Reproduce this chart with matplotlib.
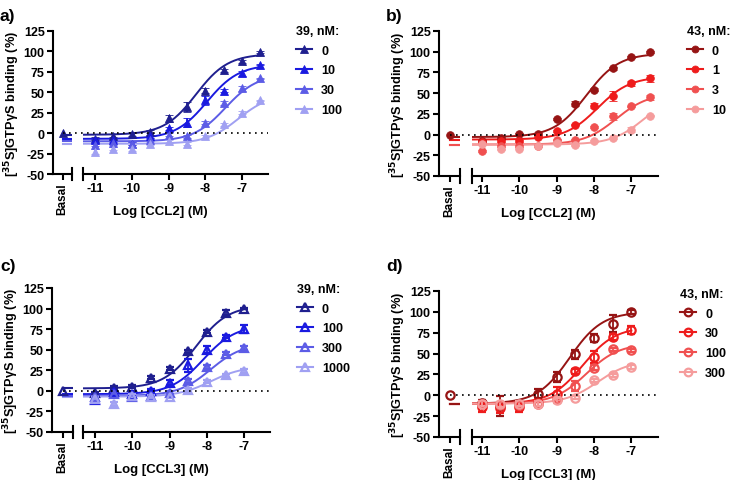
import numpy as np
import matplotlib
matplotlib.use('Agg')
import matplotlib.pyplot as plt
import matplotlib.transforms as mtransforms
from matplotlib.lines import Line2D

plt.rcParams['font.family'] = ['Liberation Sans', 'DejaVu Sans']
plt.rcParams['font.weight'] = 'bold'
plt.rcParams['axes.labelweight'] = 'bold'

W, H = 730, 481

# ---- data ----
log_ccl2 = [-11, -10.5, -10, -9.5, -9, -8.5, -8, -7.5, -7, -6.5]
log_ccl3 = [-11, -10.5, -10, -9.5, -9, -8.5, -8, -7.5, -7]

# a) CCL2 + compound 39
a_labels = ['0', '10', '30', '100']
a_y = [[-7, -3, -1, 2, 18, 32, 52, 77, 88, 99],
       [-9, -9, -13, -4, 6, 13, 40, 52, 73, 84],
       [-14, -12, -13, -8, -2, -4, 13, 37, 55, 67],
       [-23, -19, -20, -13, -10, -13, -4, 11, 25, 40]]
a_err = [[2, 2, 2, 2, 4, 6, 3, 2, 2, 1],
         [2, 2, 2, 2, 2, 5, 5, 2, 3, 1],
         [2, 2, 2, 2, 2, 2, 2, 2, 3, 1],
         [3, 2, 2, 2, 2, 2, 2, 2, 2, 1]]
a_bottom = [-2, -7, -10, -13]
a_top = [97, 84, 72, 48]
a_ec50 = [-8.25, -7.95, -7.45, -7.1]

# b) CCL2 + compound 43
b_labels = ['0', '1', '3', '10']
b_y = [[-8, -4, 1, 1, 19, 37, 54, 80, 94, 100],
       [-9, -8, -8, -3, 4, 12, 35, 46, 62, 68],
       [-20, -14, -14, -14, -6, -6, 9, 22, 34, 45],
       [-11, -18, -17, -14, -10, -13, -8, -4, 6, 23]]
b_err = [[1, 1, 1, 1, 1, 3, 2, 2, 1, 1],
         [1, 1, 1, 1, 1, 1, 3, 6, 3, 4],
         [1, 1, 1, 1, 1, 1, 1, 4, 1, 3],
         [1, 1, 1, 1, 1, 1, 1, 1, 3, 1]]
b_bottom = [-3, -6, -12, -12]
b_top = [98, 70, 50, 50]
b_ec50 = [-8.2, -7.9, -7.4, -6.65]

# c) CCL3 + compound 39
c_labels = ['0', '100', '300', '1000']
c_y = [[-3, 4, 5, 16, 27, 48, 72, 95, 100],
       [-11, -1, -4, 0, 10, 31, 50, 66, 75],
       [-8, -4, -7, -6, -2, 12, 29, 45, 52],
       [-10, -16, -6, -7, -7, 1, 11, 19, 24]]
c_err = [[2, 2, 2, 2, 2, 2, 2, 3, 1],
         [2, 2, 2, 2, 3, 8, 4, 2, 5],
         [2, 2, 2, 2, 2, 2, 3, 2, 2],
         [2, 3, 2, 2, 2, 2, 2, 2, 2]]
c_bottom = [3, -4, -6, -7]
c_top = [104, 80, 58, 30]
c_ec50 = [-8.3, -8.1, -7.9, -7.9]

# d) CCL3 + compound 43
d_labels = ['0', '30', '100', '300']
d_y = [[-9, -13, -11, 2, 22, 49, 69, 86, 100],
       [-14, -15, -14, -9, 1, 29, 46, 70, 78],
       [-11, -12, -12, -11, -5, 11, 33, 55, 54],
       [-10, -11, -10, -10, -6, -3, 18, 24, 34]]
d_err = [[3, 12, 4, 5, 6, 5, 5, 10, 2],
         [6, 6, 6, 4, 9, 3, 7, 4, 5],
         [4, 4, 4, 3, 3, 6, 3, 2, 2],
         [3, 3, 3, 3, 3, 2, 2, 2, 2]]
d_bottom = [-10, -10, -10, -10]
d_top = [100, 82, 62, 42]
d_ec50 = [-8.65, -8.3, -8.2, -7.9]

basal_value = 0

blues = ['#1f1f8f', '#1a1ae0', '#5c5ce6', '#a0a0f2']
reds = ['#961414', '#ee1c1c', '#f05050', '#f59c9c']


def fr(x0, y0, x1, y1):
    return [x0 / W, 1 - y1 / H, (x1 - x0) / W, (y1 - y0) / H]


def logistic(x, bottom, top, ec50):
    return bottom + (top - bottom) / (1 + 10 ** (ec50 - x))


fig = plt.figure(figsize=(W / 100, H / 100), dpi=100)


def panel(box, xlim, x, ys, errs, bottoms, tops, ec50s, colors, marker,
          filled, ms, labels, title, xlabel, letter, letter_xy, leg_xy):
    bx0, bx1, mx0, mx1, ytop, ybot = box
    axb = fig.add_axes(fr(bx0, ytop, bx1, ybot))
    axm = fig.add_axes(fr(mx0, ytop, mx1, ybot))
    for ax in (axb, axm):
        ax.set_ylim(-50, 125)
        ax.patch.set_alpha(0)
        ax.spines['top'].set_visible(False)
        ax.spines['right'].set_visible(False)
        ax.spines['bottom'].set_linewidth(1.5)
        ax.spines['left'].set_linewidth(1.5)
        ax.tick_params(width=1.5, length=4, labelsize=9, pad=2)
    axb.set_xlim(-1, 1)
    axb.set_xticks([0])
    axb.set_xticklabels(['Basal'], rotation=90, fontsize=8.5, fontweight='bold')
    axb.set_yticks(np.arange(-50, 126, 25))
    axb.set_yticklabels([str(v) for v in range(-50, 126, 25)], fontweight='bold')
    axb.set_ylabel('[$^{\\mathbf{35}}$S]GTPγS binding (%)', fontsize=9.2,
                   fontweight='bold', labelpad=1)
    axm.spines['left'].set_visible(False)
    axm.set_yticks([])
    axm.set_xlim(*xlim)
    axm.set_xticks([-11, -10, -9, -8, -7])
    axm.set_xticklabels(['-11', '-10', '-9', '-8', '-7'], fontweight='bold')
    # axis break marks
    axb.plot([1, 1], [-0.045, 0.045], transform=axb.transAxes, color='k',
             lw=1.5, clip_on=False)
    axm.plot([0, 0], [-0.045, 0.045], transform=axm.transAxes, color='k',
             lw=1.5, clip_on=False)
    # dotted zero line across both segments
    tr = mtransforms.blended_transform_factory(fig.transFigure, axm.transData)
    fig.add_artist(Line2D([(bx0 + bx1) / 2 / W, mx1 / W], [0, 0], transform=tr,
                          color='k', lw=1.2, ls=(0, (1, 2.6)), zorder=1))
    xc = np.linspace(xlim[0], x[-1], 200)
    mew = 0.6 if filled else 1.6
    for i in range(len(ys) - 1, -1, -1):
        c = colors[i]
        axm.plot(xc, logistic(xc, bottoms[i], tops[i], ec50s[i]), color=c,
                 lw=1.4, zorder=2 + i * 0.1)
        axb.plot([0, 1], [bottoms[i], bottoms[i]], color=c, lw=1.5, zorder=2)
        mfc = c if filled else 'none'
        axm.errorbar(x, ys[i], yerr=errs[i], fmt=marker, color=c, mfc=mfc,
                     mec=c, ms=ms, mew=mew, elinewidth=1.3, capsize=3,
                     capthick=1.3, zorder=3 + i * 0.1)
    axb.plot([0], [basal_value], marker, color=colors[0],
             mfc=colors[0] if filled else 'none', mec=colors[0], ms=ms,
             mew=mew, zorder=4)
    handles = [Line2D([], [], color=c, lw=1.5, marker=marker, ms=ms - 0.5,
                      mfc=c if filled else 'none', mec=c, mew=mew)
               for c in colors]
    leg = axm.legend(handles, labels, title=title, loc='upper left',
                     bbox_to_anchor=(leg_xy[0] / W, 1 - leg_xy[1] / H),
                     bbox_transform=fig.transFigure, frameon=False,
                     prop={'weight': 'bold', 'size': 9},
                     title_fontproperties={'weight': 'bold', 'size': 9},
                     handlelength=1.25, handletextpad=0.75, labelspacing=0.62,
                     borderpad=0, borderaxespad=0)
    leg._legend_box.align = 'left'
    fig.text((bx0 + mx1) / 2 / W, 1 - (ybot + 37) / H, xlabel, ha='center',
             va='center', fontsize=9.5, fontweight='bold')
    fig.text(letter_xy[0] / W, 1 - letter_xy[1] / H, letter, ha='left',
             va='center', fontsize=12.5, fontweight='bold')


panel((53, 72, 83, 268, 32, 175), (-11.33, -6.29), log_ccl2, a_y, a_err,
      a_bottom, a_top, a_ec50, blues, '^', True, 5.6, a_labels, '39, nM:',
      'Log [CCL2] (M)', 'a)', (0, 17), (296, 26))
panel((439, 460, 472, 658, 32, 177), (-11.27, -6.28), log_ccl2, b_y, b_err,
      b_bottom, b_top, b_ec50, reds, 'o', True, 5.5, b_labels, '43, nM:',
      'Log [CCL2] (M)', 'b)', (386, 17), (687, 26))
panel((52, 73, 83, 270, 289, 433), (-11.32, -6.31), log_ccl3, c_y, c_err,
      c_bottom, c_top, c_ec50, blues, '^', False, 6, c_labels, '39, nM:',
      'Log [CCL3] (M)', 'c)', (0, 267), (297, 284))
panel((439, 460, 472, 658, 292, 438), (-11.26, -6.29), log_ccl3, d_y, d_err,
      d_bottom, d_top, d_ec50, reds, 'o', False, 6, d_labels, '43, nM:',
      'Log [CCL3] (M)', 'd)', (386, 267), (680, 289))

fig.savefig('out.png', dpi=100)
